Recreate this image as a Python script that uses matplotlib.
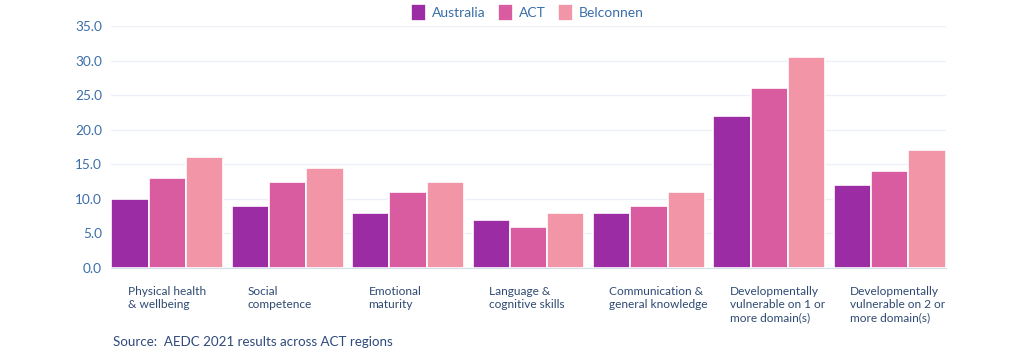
import numpy as np
import matplotlib
matplotlib.use("Agg")
import matplotlib.pyplot as plt
from matplotlib.transforms import blended_transform_factory

plt.rcParams['font.family'] = ['Lato', 'DejaVu Sans']

categories = ["Physical health\n& wellbeing", "Social\ncompetence", "Emotional\nmaturity",
              "Language &\ncognitive skills", "Communication &\ngeneral knowledge",
              "Developmentally\nvulnerable on 1 or\nmore domain(s)",
              "Developmentally\nvulnerable on 2 or\nmore domain(s)"]
australia = [10.0, 9.0, 8.0, 7.0, 8.0, 22.0, 12.0]
act = [13.0, 12.5, 11.0, 6.0, 9.0, 26.0, 14.0]
belconnen = [16.0, 14.5, 12.5, 8.0, 11.0, 30.5, 17.0]
series = [("Australia", australia, "#9b2ca3"),
          ("ACT", act, "#d95ba0"),
          ("Belconnen", belconnen, "#f295a6")]

fig = plt.figure(figsize=(10.24, 3.5), dpi=100)
ax = fig.add_axes([0.1084, 0.2343, 0.8154, 0.6914])

x = np.arange(len(categories))
w = 0.31
for k, (name, vals, c) in enumerate(series):
    ax.bar(x + (k - 1) * w, vals, w, color=c, edgecolor="white", linewidth=1.2,
           label=name, zorder=3)

ax.set_xlim(-0.468, len(categories) - 1 + 0.468)
ax.set_ylim(0, 35)
ax.set_yticks(np.arange(0, 36, 5))
ax.set_yticklabels([f"{v:.1f}" for v in np.arange(0, 36, 5)])
ax.tick_params(axis="y", length=0, pad=6.5, labelsize=9.8, labelcolor="#3b6ea8")
ax.set_xticks([])
ax.grid(axis="y", color="#edf1f7", linewidth=1, zorder=0)
for s in ["top", "right", "left"]:
    ax.spines[s].set_visible(False)
ax.spines["bottom"].set_color("#d5deea")

tr = blended_transform_factory(ax.transData, ax.transAxes)
for i, lab in enumerate(categories):
    ax.text(i - 0.33, -0.075, lab, transform=tr, ha="left", va="top",
            fontsize=8.6, color="#2e4a72", linespacing=1.25)

fig.legend(loc="upper center", bbox_to_anchor=(0.515, 1.025), ncol=3, frameon=False,
           fontsize=10, labelcolor="#3b6ea8", handlelength=1.1, handleheight=1.5,
           handletextpad=0.4, columnspacing=0.9)

fig.text(113 / 1024, 1 - 342 / 350, "Source:  AEDC 2021 results across ACT regions",
         ha="left", va="center", fontsize=9.6, color="#2e4a7a")

fig.savefig("out.png", dpi=100)
